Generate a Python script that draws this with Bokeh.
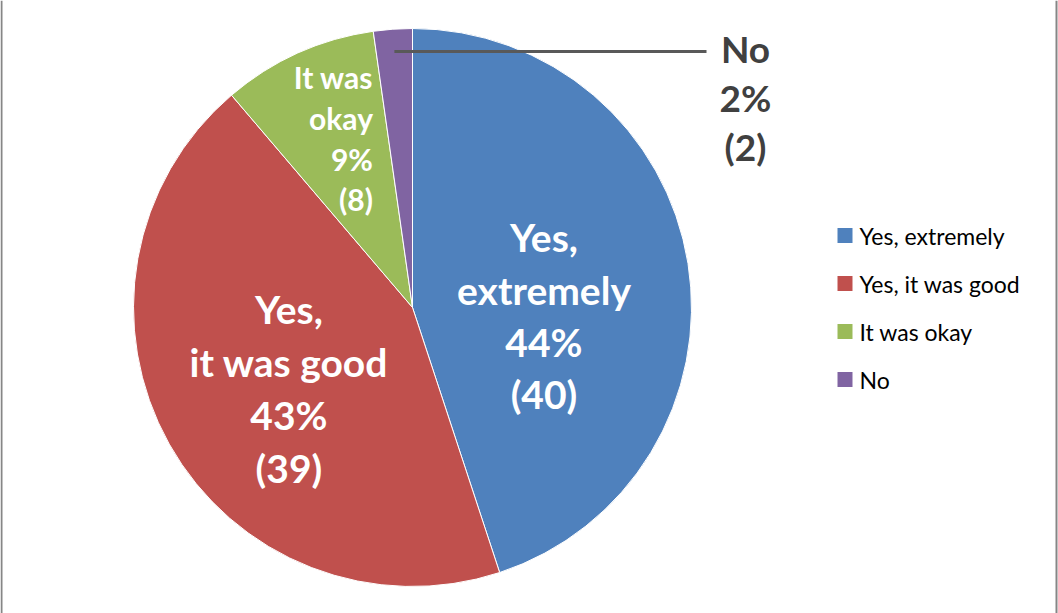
import math
from bokeh.plotting import figure
from bokeh.models import Range1d, Span
from bokeh.core.properties import value
from bokeh.embed import file_html
from bokeh.resources import INLINE

# ---- data ----
categories = ["Yes, extremely", "Yes, it was good", "It was okay", "No"]
counts = [40, 39, 8, 2]
pct_labels = ["44%", "43%", "9%", "2%"]
slice_names = ["Yes,\nextremely", "Yes,\nit was good", "It was\nokay", "No"]
colors = ["#4F81BD", "#C0504D", "#9BBB59", "#8064A2"]

W, H = 1058, 613
CX, CY, R = 412, 306, 279

p = figure(width=W, height=H, x_range=Range1d(0, W), y_range=Range1d(0, H),
           output_backend="svg", toolbar_location=None, min_border=0)
p.axis.visible = False
p.grid.visible = False
p.outline_line_color = None
p.background_fill_color = "white"

total = sum(counts)
starts, ends, mids = [], [], []
cum = 0
for c in counts:
    a0 = math.pi / 2 - 2 * math.pi * cum / total
    cum += c
    a1 = math.pi / 2 - 2 * math.pi * cum / total
    starts.append(a0)
    ends.append(a1)
    mids.append((a0 + a1) / 2)

p.wedge(x=[CX] * len(counts), y=[CY] * len(counts), radius=R,
        start_angle=ends, end_angle=starts, direction="anticlock",
        fill_color=colors, line_color="white", line_width=1)

font = value("Lato")

# inside labels
label_style = [
    dict(r=0.47, dx=2, dy=-29, size="39px", lh=1.14, align="center"),
    dict(r=0.50, dx=-2, dy=-13, size="39px", lh=1.15, align="center"),
    dict(r=0.65, dx=35, dy=4, size="30px", lh=1.13, align="right"),
]
for i, st in enumerate(label_style):
    x = CX + st["r"] * R * math.cos(mids[i]) + st["dx"]
    y = CY + st["r"] * R * math.sin(mids[i]) + st["dy"]
    txt = f"{slice_names[i]}\n{pct_labels[i]}\n({counts[i]})"
    p.text(x=[x], y=[y], text=[txt], text_color="white", text_font=font,
           text_font_style="bold", text_font_size=st["size"],
           text_align=st["align"], text_baseline="middle",
           text_line_height=st["lh"])

# outside label with leader line for the small slice
i = 3
lx = CX + 0.92 * R * math.cos(mids[i])
ly = CY + 0.92 * R * math.sin(mids[i])
p.segment(x0=[lx], y0=[ly], x1=[706], y1=[ly], line_color="#595959", line_width=3)
p.text(x=[745], y=[ly - 46], text=[f"{slice_names[i]}\n{pct_labels[i]}\n({counts[i]})"],
       text_color="#404040", text_font=font, text_font_style="bold",
       text_font_size="37px", text_align="center", text_baseline="middle",
       text_line_height=1.08)

# legend
leg_y = [H - 235 - 48 * k for k in range(len(categories))]
p.scatter(x=[844.5] * len(categories), y=leg_y, marker="square", size=15,
          fill_color=colors, line_color=None)
p.text(x=[859] * len(categories), y=leg_y, text=categories, text_color="#000000",
       text_font=font, text_font_size="23px", text_align="left",
       text_baseline="middle")

# frame lines
p.add_layout(Span(location=1, dimension="height", line_color="#868686", line_width=2))
p.add_layout(Span(location=W - 2, dimension="height", line_color="#868686", line_width=2))

open("out.html", "w").write(file_html(p, INLINE))
